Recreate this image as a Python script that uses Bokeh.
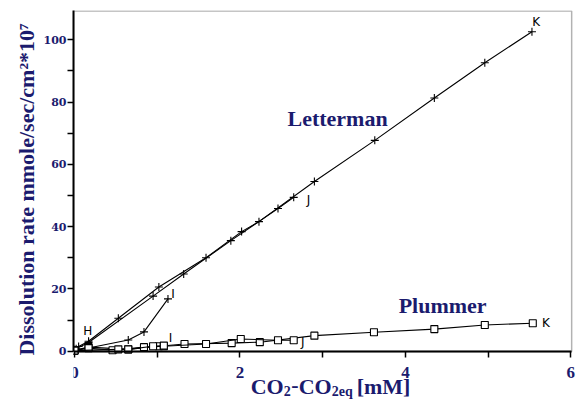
from bokeh.plotting import figure
from bokeh.models import Range1d, FixedTicker, Label, BoxAnnotation
from bokeh.embed import file_html
from bokeh.resources import INLINE
from bokeh.core.properties import value

# ---- data ----
# Letterman, run K (long line)
let_k_x = [0.00, 0.05, 0.17, 0.53, 1.02, 1.59, 2.02, 2.23, 2.90, 3.63, 4.35, 4.96, 5.53]
let_k_y = [0.5, 1.5, 3.2, 10.6, 20.6, 30.0, 38.4, 41.6, 54.5, 67.7, 81.3, 92.6, 102.6]
# Letterman, run J
let_j_x = [0.02, 0.17, 0.95, 1.32, 1.89, 2.46, 2.65]
let_j_y = [0.8, 2.8, 17.7, 24.8, 35.5, 45.8, 49.4]
# Letterman, run I
let_i_x = [0.00, 0.20, 0.65, 0.84, 1.13]
let_i_y = [0.3, 1.2, 3.6, 6.2, 16.8]
# Plummer, run K
plu_k_x = [0.00, 0.17, 0.65, 1.02, 1.33, 1.90, 2.24, 2.90, 3.62, 4.35, 4.96, 5.54]
plu_k_y = [0.3, 1.3, 0.6, 1.6, 2.3, 2.6, 2.9, 5.0, 6.1, 7.1, 8.4, 9.0]
# Plummer, run J
plu_j_x = [0.00, 0.17, 0.46, 0.84, 1.08, 1.59, 2.01, 2.46, 2.65]
plu_j_y = [0.2, 1.0, 0.3, 1.3, 1.6, 2.3, 3.9, 3.5, 3.5]
# Plummer, run I
plu_i_x = [0.00, 0.53, 0.65, 0.95, 1.08]
plu_i_y = [0.2, 0.6, 0.6, 1.6, 1.8]

# run letters
run_text = ["H", "I", "J", "K", "I", "J", "K"]
run_x = [0.16, 1.19, 2.83, 5.58, 1.16, 2.76, 5.70]
run_y = [6.6, 18.5, 48.7, 105.6, 4.4, 2.8, 9.2]

# series names
name_text = ["Letterman", "Plummer"]
name_x = [3.18, 4.45]
name_y = [74.7, 14.7]

x_ticks = [0, 2, 4, 6]
x_minor = [1, 3, 5]
y_ticks = [0, 20, 40, 60, 80, 100]
y_minor = [10, 30, 50, 70, 90]

X0, X1 = -0.012, 6.02      # axis box x extent
X_CANVAS_RIGHT = 6.141     # frame runs a little past the box (room for the "6")
Y0, Y1 = -0.1, 109.4       # axis box y extent
Y_CANVAS_BOTTOM = -16.15   # frame runs down to the canvas bottom (room for x label)

NAVY = "#1b1b6e"
SERIF = "Liberation Serif"

p = figure(width=585, height=401, output_backend="svg", toolbar_location=None,
           x_range=Range1d(X0, X_CANVAS_RIGHT), y_range=Range1d(Y_CANVAS_BOTTOM, Y1),
           min_border_left=73, min_border_right=3, min_border_top=10, min_border_bottom=0)

p.background_fill_color = "white"
p.border_fill_color = "white"
p.outline_line_color = None
p.xgrid.visible = False
p.ygrid.visible = False

for ax in (p.xaxis[0], p.yaxis[0]):
    ax.axis_line_color = "black"
    ax.axis_line_width = 2
    ax.major_tick_line_color = "black"
    ax.minor_tick_line_color = "black"
    ax.major_tick_line_width = 1.5
    ax.minor_tick_line_width = 1.5
    ax.major_tick_out = 6
    ax.major_tick_in = 0
    ax.minor_tick_out = 6
    ax.minor_tick_in = 0
    ax.major_label_text_color = NAVY
    ax.major_label_text_font = SERIF
    ax.major_label_text_font_style = "bold"

p.xaxis[0].fixed_location = Y0
p.xaxis[0].bounds = (X0, X1 - 0.01)
p.yaxis[0].bounds = (Y0, Y1)
p.xaxis[0].ticker = FixedTicker(ticks=x_ticks, minor_ticks=x_minor)
p.yaxis[0].ticker = FixedTicker(ticks=y_ticks, minor_ticks=y_minor)
p.xaxis[0].major_label_text_font_size = "17px"
p.xaxis[0].major_label_standoff = 9
p.yaxis[0].major_label_text_font = "DejaVu Serif"
p.yaxis[0].major_label_text_font_size = "11px"
p.yaxis[0].major_label_standoff = 1

NBSP = "\u00a0"
p.yaxis[0].axis_label = NBSP * 6 + "Dissolution rate mmole/sec/cm²*10⁷"
p.yaxis[0].axis_label_text_font = SERIF
p.yaxis[0].axis_label_text_font_style = "bold"
p.yaxis[0].axis_label_text_font_size = "22px"
p.yaxis[0].axis_label_text_color = NAVY
p.yaxis[0].axis_label_standoff = 2

# box around the plotting area
p.add_layout(BoxAnnotation(left=X0, right=X1 - 0.01, bottom=Y0, top=Y1 - 0.2,
                           fill_color=None, fill_alpha=0, line_color="black",
                           line_width=1.5))

# lines
for xs, ys in [(let_k_x, let_k_y), (let_j_x, let_j_y), (let_i_x, let_i_y)]:
    p.line(xs, ys, line_color="black", line_width=1.1)
    p.scatter(xs, ys, marker="cross", size=8, line_color="black", line_width=1.1)
for xs, ys in [(plu_k_x, plu_k_y), (plu_j_x, plu_j_y), (plu_i_x, plu_i_y)]:
    p.line(xs, ys, line_color="black", line_width=1.1)
    p.scatter(xs, ys, marker="square", size=7, line_color="black",
              fill_color="white", line_width=1.1)

p.text(x=run_x, y=run_y, text=run_text, text_font=value("DejaVu Sans"),
       text_font_size="12px", text_color="black", text_align="center",
       text_baseline="middle")

p.text(x=name_x, y=name_y, text=name_text, text_font=value(SERIF),
       text_font_style="bold", text_font_size="22px", text_color=NAVY,
       text_align="center", text_baseline="middle")

# x axis label built from pieces (subscripts)
pieces = [("CO", 0, 0, "22px"), ("2", 33, -5, "14px"), ("-", 40.5, 1, "22px"),
          ("CO", 48, 0, "22px"), ("2eq", 81, -5, "14px"), ("[mM]", 106, 0, "22px")]
for txt, dx, dy, fs in pieces:
    p.add_layout(Label(x=2.13, y=-11.2, x_offset=dx, y_offset=dy, text=txt,
                       text_font=SERIF, text_font_style="bold", text_font_size=fs,
                       text_color=NAVY, text_baseline="alphabetic", text_align="left"))

open("out.html", "w").write(file_html(p, INLINE))
